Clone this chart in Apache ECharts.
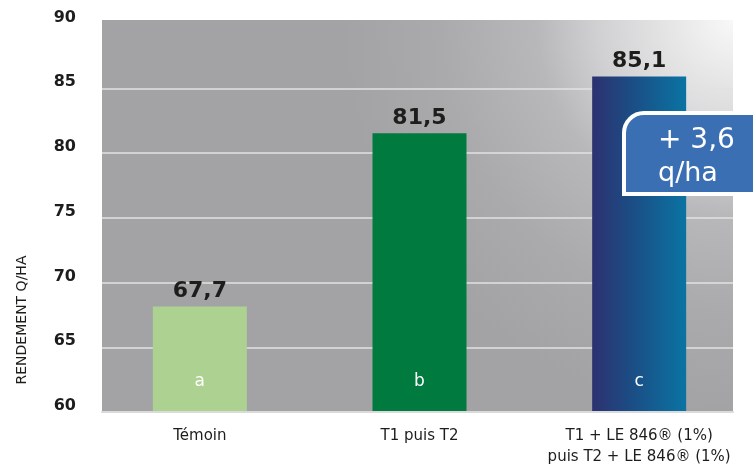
<!DOCTYPE html>
<html>
<head>
<meta charset="utf-8">
<script src="https://cdn.jsdelivr.net/npm/echarts@6/dist/echarts.min.js"></script>
<style>
html,body{margin:0;padding:0;background:#fff;}
#chart{width:753px;height:468px;}
</style>
</head>
<body>
<div id="chart"></div>
<script>
// ---- data ----
const categories = ['Témoin', 'T1 puis T2', 'T1 + LE 846® (1%)\npuis T2 + LE 846® (1%)'];
const barHeights = [68.1, 81.5, 85.9];      // bar tops as drawn
const yieldLabels = [67.7, 81.5, 85.1];     // printed values (q/ha)
const groupLetters = ['a', 'b', 'c'];
const yMin = 60, yMax = 90, yStep = 5;
const yAxisTitle = 'RENDEMENT Q/HA';
const gainLine1 = '+ 3,6';
const gainLine2 = 'q/ha';

const FONT = 'DejaVu Sans';
const DARK = '#1d1d1b';

const barColors = [
  '#acd190',
  '#007a3e',
  {type:'linear', x:0, y:0, x2:1, y2:0, colorStops:[
    {offset:0, color:'#2d3170'}, {offset:0.45, color:'#1a4f86'}, {offset:1, color:'#0a74a3'}]}
];

const chart = echarts.init(document.getElementById('chart'), null, {renderer:'canvas'});

const gridTop = 23.5, gridBottom = 56;

const option = {
  animation: false,
  backgroundColor: '#ffffff',
  grid: [
    {left:102, right:20, top:gridTop, bottom:gridBottom},
    {left:90, right:4, top:gridTop, bottom:gridBottom}
  ],
  xAxis: [
    {gridIndex:0, type:'category', data:categories,
     axisLine:{show:true, lineStyle:{color:'#dadada', width:2}},
     axisTick:{show:false}, axisLabel:{show:false}},
    {gridIndex:1, type:'category', data:categories,
     axisLine:{show:false}, axisTick:{show:false},
     axisLabel:{interval:0, color:DARK, fontFamily:FONT, fontSize:15, lineHeight:21, margin:15}}
  ],
  yAxis: [
    {gridIndex:0, type:'value', min:yMin, max:yMax, interval:yStep,
     axisLine:{show:false}, axisTick:{show:false},
     splitLine:{show:true, showMaxLine:false, showMinLine:false, lineStyle:{color:'#e2e2e2', width:1.5}},
     axisLabel:{color:DARK, fontFamily:FONT, fontSize:16, fontWeight:'bold', margin:26,
                verticalAlign:'bottom', lineHeight:12}},
    {gridIndex:1, type:'value', min:yMin, max:yMax, interval:yStep, show:false,
     splitLine:{show:false}}
  ],
  graphic: [
    {type:'rect', z:-10, silent:true,
     shape:{x:102, y:20, width:631, height:392},
     style:{fill:{type:'radial', x:1, y:0, r:1, colorStops:[
       {offset:0, color:'#f8f8f8'}, {offset:0.35, color:'#d0d0d2'},
       {offset:0.5, color:'#b8b8ba'}, {offset:0.75, color:'#aaaaac'}, {offset:1, color:'#a3a3a5'}]}}},
    {type:'text', x:22, y:320, rotation:Math.PI/2, z:10,
     style:{text:yAxisTitle, fill:DARK, font:'14px "' + FONT + '"', textAlign:'center', textVerticalAlign:'middle'}},
    {type:'rect', z:100,
     shape:{x:624, y:113, width:140, height:81, r:[20,0,0,0]},
     style:{fill:'#3a6fb3', stroke:'#ffffff', lineWidth:4}},
    {type:'text', x:658, y:141, z:101,
     style:{text:gainLine1, fill:'#ffffff', font:'28px "' + FONT + '"', textAlign:'left', textVerticalAlign:'middle'}},
    {type:'text', x:658, y:174, z:101,
     style:{text:gainLine2, fill:'#ffffff', font:'27px "' + FONT + '"', textAlign:'left', textVerticalAlign:'middle'}}
  ],
  series: [
    {type:'bar', xAxisIndex:1, yAxisIndex:1, barWidth:94, silent:true,
     data: barHeights.map((v,i)=>({value:v, itemStyle:{color:barColors[i]}})),
     label:{show:true, position:'top', distance:4, color:DARK, fontFamily:FONT, fontSize:22, fontWeight:'bold',
            formatter:p=>String(yieldLabels[p.dataIndex]).replace('.', ',')}},
    {type:'bar', xAxisIndex:1, yAxisIndex:1, barWidth:94, barGap:'-100%', silent:true,
     data: barHeights.slice(),
     itemStyle:{color:'rgba(0,0,0,0)'},
     label:{show:true, position:'insideBottom', distance:21, color:'#ffffff', fontFamily:FONT, fontSize:17,
            formatter:p=>groupLetters[p.dataIndex]}}
  ]
};
chart.setOption(option);
</script>
</body>
</html>
